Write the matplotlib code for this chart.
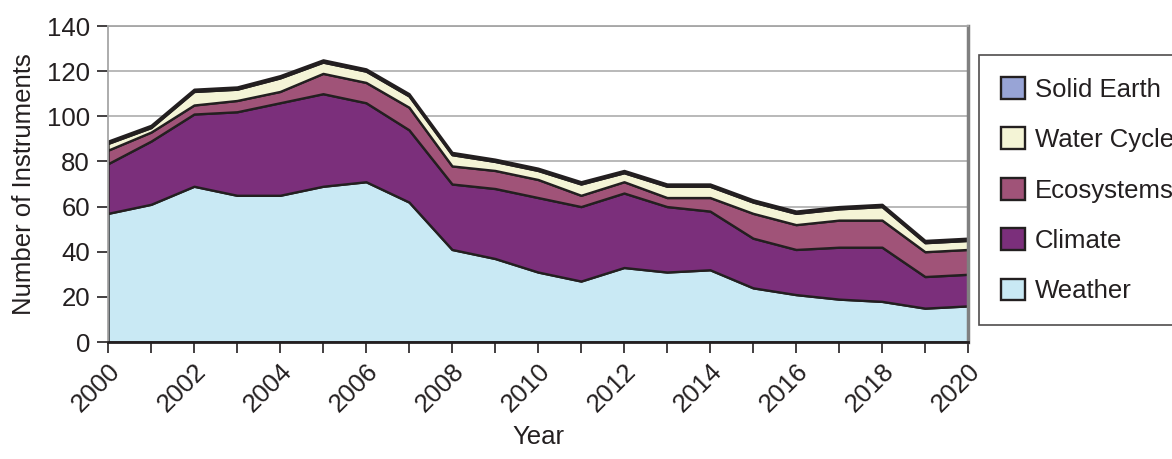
import matplotlib.pyplot as plt
import numpy as np

years = list(range(2000, 2021))
weather = [57, 61, 69, 65, 65, 69, 71, 62, 41, 37, 31, 27, 33, 31, 32, 24, 21, 19, 18, 15, 16]
climate = [22, 28, 32, 37, 41, 41, 35, 32, 29, 31, 33, 33, 33, 29, 26, 22, 20, 23, 24, 14, 14]
ecosystems = [6, 4, 4, 5, 5, 9, 9, 10, 8, 8, 8, 5, 5, 4, 6, 11, 11, 12, 12, 11, 11]
water_cycle = [3, 2, 6, 5, 6, 5, 5, 5, 5, 4, 4, 5, 4, 5, 5, 5, 5, 5, 6, 4, 4]
solid_earth = [1, 1, 1, 1, 1, 1, 1, 1, 1, 1, 1, 1, 1, 1, 1, 1, 1, 1, 1, 1, 1]
labels = ['Weather', 'Climate', 'Ecosystems', 'Water Cycle', 'Solid Earth']
colors = ['#c9e9f4', '#7b2f7b', '#a05378', '#f4f4d6', '#98a4d6']

plt.rcParams['font.family'] = ['Liberation Sans', 'DejaVu Sans']
fs = 18.5

fig = plt.figure(figsize=(11.72, 4.59), dpi=100)
ax = fig.add_axes([108/1172, 1-342/459, 860/1172, 316/459])

ax.stackplot(years, weather, climate, ecosystems, water_cycle, solid_earth,
             labels=labels, colors=colors, edgecolor='#231f20', linewidth=1.7,
             zorder=2)

ax.set_xlim(2000, 2020)
ax.set_ylim(0, 140)
ax.set_yticks(np.arange(0, 141, 20))
ax.set_xticks(years)
ax.set_xticklabels([str(y) if y % 2 == 0 else '' for y in years],
                   rotation=45, ha='right', va='top', rotation_mode='anchor')
ax.grid(axis='y', color='#b3b3b3', linewidth=1.3, zorder=0)
ax.set_axisbelow(True)

for s in ['left', 'top', 'right']:
    ax.spines[s].set_color('#a6a6a6')
    ax.spines[s].set_linewidth(1.3)
ax.spines['right'].set_color('#808080')
ax.spines['right'].set_linewidth(2.5)
ax.spines['bottom'].set_color('#231f20')
ax.spines['bottom'].set_linewidth(2)
ax.spines['bottom'].set_zorder(5)

ax.tick_params(axis='y', length=8, width=1.2, color='#231f20', labelsize=fs, pad=5,
               labelcolor='#231f20')
ax.tick_params(axis='x', length=8, width=1.2, color='#231f20', labelsize=fs, pad=4,
               labelcolor='#231f20')

ax.set_ylabel('Number of Instruments', fontsize=fs, color='#231f20', labelpad=8)
ax.set_xlabel('Year', fontsize=fs, color='#231f20', labelpad=6)

handles, lbls = ax.get_legend_handles_labels()
leg = fig.legend(handles[::-1], lbls[::-1], loc='upper left',
                 bbox_to_anchor=(979/1172, 1-55/459), fontsize=fs,
                 frameon=True, fancybox=False, edgecolor='#231f20',
                 handlelength=0.93, handleheight=0.93, handletextpad=0.4,
                 labelspacing=1.0, borderpad=0.85, borderaxespad=0)
leg.get_frame().set_linewidth(1.2)
for t in leg.get_texts():
    t.set_color('#231f20')

fig.savefig('out.png', dpi=100)
